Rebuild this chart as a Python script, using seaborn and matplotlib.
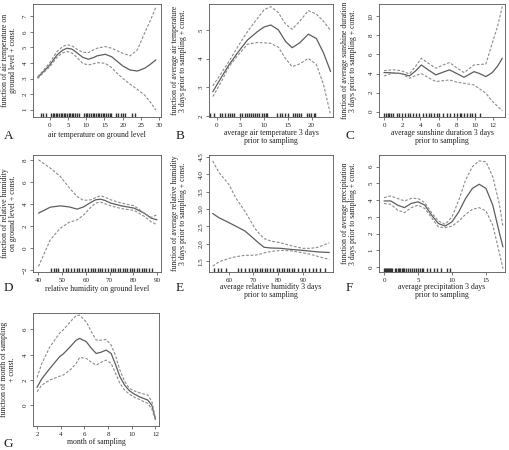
import numpy as np
import pandas as pd
import matplotlib
matplotlib.use("Agg")
import matplotlib.pyplot as plt
import seaborn as sns

# A: air temperature on ground level
a_x = [-3.3, -1.5, 0, 2, 3.5, 4.7, 6, 7, 9, 10.6, 12, 13, 15.2, 17, 18, 20, 22, 24, 26, 27.5, 29.1]
a_fit = [3.07, 3.5, 3.87, 4.52, 4.82, 4.95, 4.9, 4.74, 4.37, 4.24, 4.35, 4.46, 4.56, 4.4, 4.2, 3.81, 3.55, 3.48, 3.66, 3.9, 4.2]
a_upper = [3.12, 3.58, 4.02, 4.74, 5.05, 5.17, 5.12, 4.95, 4.69, 4.67, 4.85, 4.95, 5.06, 4.95, 4.84, 4.63, 4.46, 4.84, 5.92, 6.7, 7.6]
a_lower = [3.0, 3.42, 3.76, 4.37, 4.65, 4.74, 4.65, 4.46, 3.98, 3.87, 3.95, 4.02, 3.98, 3.7, 3.44, 3.01, 2.64, 2.3, 1.93, 1.5, 0.96]
a_rug = [-2.5, -1.8, -1, 0.3, 0.8, 1.2, 1.7, 2.1, 2.6, 3.0, 3.4, 3.9, 4.3, 4.8, 5.2, 5.6, 6.1, 6.5, 7.0, 7.4, 7.9,
         9.4, 9.9, 10.3, 10.8, 11.3, 11.8, 12.2, 12.7, 13.1, 13.6, 14.1, 14.5, 15.0, 15.4, 15.9, 16.4, 16.8,
         18.1, 18.8, 19.5, 20.2, 20.7, 22.5, 23.4]

# B: average air temperature 3 days prior to sampling
b_x = [-0.8, 1, 2.6, 4.4, 6.5, 8.6, 10, 11.4, 13, 14.5, 15.9, 17.5, 19.3, 21, 22.5, 24]
b_fit = [2.85, 3.35, 3.78, 4.2, 4.65, 4.94, 5.1, 5.17, 5.0, 4.6, 4.38, 4.55, 4.85, 4.7, 4.2, 3.55]
b_upper = [3.05, 3.5, 3.9, 4.4, 4.94, 5.4, 5.7, 5.81, 5.6, 5.2, 5.02, 5.3, 5.67, 5.55, 5.3, 4.98]
b_lower = [2.68, 3.2, 3.72, 4.1, 4.5, 4.56, 4.55, 4.53, 4.4, 4.0, 3.72, 3.82, 4.01, 3.8, 3.1, 2.04]
b_rug = [-1.3, -0.6, 0.8, 1.2, 1.7, 2.3, 2.8, 3.2, 3.6, 5.0, 5.4, 5.9, 6.3, 6.8, 7.2, 7.7, 8.1, 8.6, 9.0, 9.5, 9.9,
         10.4, 10.7, 12.8, 13.3, 13.8, 14.3, 15.0, 16.0, 16.5, 17.0, 17.4, 17.7, 19.0, 19.5, 19.9, 20.4, 20.8]

# C: average sunshine duration 3 days prior to sampling
c_x = [0, 0.5, 1, 1.9, 2.8, 3.5, 4.1, 5, 5.7, 6.5, 7.2, 8, 8.8, 9.9, 10.5, 11.2, 11.9, 12.5, 13]
c_fit = [4.1, 4.1, 4.05, 4.0, 3.75, 4.3, 4.9, 4.3, 3.86, 4.15, 4.39, 4.0, 3.61, 4.2, 4.0, 3.68, 4.1, 4.8, 5.6]
c_upper = [4.3, 4.35, 4.4, 4.3, 3.96, 4.8, 5.6, 5.0, 4.56, 4.9, 5.16, 4.6, 4.1, 4.9, 4.95, 5.0, 7.2, 9.0, 11.05]
c_lower = [3.75, 3.9, 4.1, 4.0, 3.5, 3.8, 4.0, 3.5, 3.16, 3.25, 3.33, 3.1, 2.98, 2.8, 2.4, 1.93, 1.1, 0.55, 0.1]
c_rug = [0.0, 0.2, 0.4, 0.6, 0.8, 1.0, 1.4, 1.7, 2.0, 2.3, 2.6, 2.9, 3.2, 3.5, 3.8, 4.3, 4.6, 4.9, 5.2, 5.5, 5.8, 6.1,
         6.5, 6.9, 7.3, 7.7, 8.0, 8.3, 8.5, 8.8, 9.1, 9.4, 9.7, 10.0, 10.5]

# D: relative humidity on ground level
d_x = [40, 45, 49.2, 53, 56.3, 59, 62, 64.1, 66.2, 68, 70.5, 75, 80.4, 84.6, 87.5, 90]
d_fit = [3.18, 3.73, 3.85, 3.75, 3.55, 3.75, 4.15, 4.4, 4.46, 4.35, 4.1, 3.85, 3.64, 3.18, 2.73, 2.57]
d_upper = [8.06, 7.3, 6.54, 5.5, 4.7, 4.35, 4.4, 4.6, 4.77, 4.65, 4.4, 4.1, 3.85, 3.2, 2.8, 3.03]
d_lower = [-1.7, 0.74, 1.81, 2.35, 2.57, 3.0, 3.7, 4.1, 4.19, 4.05, 3.85, 3.6, 3.43, 2.9, 2.4, 2.12]
d_rug = [45.5, 46.5, 47.4, 48.3, 50.4, 51.5, 52.5, 53.8, 55.0, 56.2, 57.3, 58.5, 59.6, 60.8, 62.0, 63.0, 64.0,
         65.0, 66.0, 67.0, 68.0, 69.4, 70.5, 71.5, 72.5, 73.5, 74.5, 75.5, 76.5, 77.5, 78.5, 79.5, 80.5,
         81.5, 82.5, 83.5, 84.5, 85.5, 86.5, 87.8]

# E: average relative humidity 3 days prior to sampling
e_x = [53.5, 56, 60, 63, 66.5, 68.5, 70.4, 72.5, 74.3, 77, 80.9, 85, 90, 93, 95.5, 98, 100.7]
e_fit = [2.87, 2.75, 2.61, 2.5, 2.37, 2.25, 2.13, 2.0, 1.9, 1.88, 1.87, 1.84, 1.81, 1.79, 1.77, 1.76, 1.75]
e_upper = [4.38, 4.05, 3.71, 3.3, 2.94, 2.7, 2.46, 2.28, 2.15, 2.08, 2.03, 1.95, 1.87, 1.87, 1.89, 1.95, 2.03]
e_lower = [1.36, 1.48, 1.58, 1.63, 1.67, 1.67, 1.67, 1.7, 1.74, 1.78, 1.81, 1.8, 1.74, 1.7, 1.65, 1.6, 1.55]
e_rug = [54.0, 55.5, 57.0, 58.7, 63.6, 65.0, 66.5, 68.0, 69.5, 70.5, 71.5, 72.5, 73.5, 74.5, 75.5, 76.5, 78.0,
         79.5, 80.5, 81.5, 82.5, 83.5, 84.5, 85.5, 86.5, 88.0, 89.5, 91.0, 92.5, 94.0, 95.5, 97.0, 99.0]

# F: average precipitation 3 days prior to sampling
f_x = [0, 1, 2, 3, 4, 5, 6, 7, 8, 9, 10, 11, 12, 13, 14, 15, 16, 17, 17.5]
f_fit = [3.95, 3.95, 3.7, 3.55, 3.8, 3.9, 3.7, 3.1, 2.6, 2.45, 2.7, 3.3, 4.1, 4.7, 4.95, 4.7, 3.7, 2.0, 1.2]
f_upper = [4.15, 4.25, 4.1, 3.95, 4.1, 4.1, 3.85, 3.25, 2.75, 2.55, 3.0, 4.0, 5.2, 6.0, 6.35, 6.3, 5.4, 3.7, 2.4]
f_lower = [3.8, 3.75, 3.4, 3.25, 3.55, 3.7, 3.5, 2.95, 2.4, 2.35, 2.45, 2.75, 3.15, 3.45, 3.55, 3.35, 2.5, 0.8, -0.1]
f_rug = [0.0, 0.15, 0.3, 0.45, 0.6, 0.75, 0.9, 1.05, 1.2, 1.6, 1.8, 2.0, 2.2, 2.4, 2.6, 2.8, 3.0, 3.2, 3.5,
         3.8, 4.1, 4.4, 4.7, 5.0, 5.3, 5.6, 5.8, 6.3, 6.8, 7.3, 7.8, 8.4, 9.2, 9.7]

# G: month of sampling
g_x = [2, 2.4, 3.07, 3.9, 4.2, 4.8, 5.3, 5.6, 6.16, 6.6, 7.0, 7.4, 7.84, 8.26, 8.6, 9.0, 9.4, 9.8, 10.2, 10.65, 11.0, 11.35, 11.7, 12]
g_fit = [1.42, 2.1, 2.9, 3.84, 4.05, 4.63, 5.15, 5.29, 5.03, 4.5, 4.1, 4.2, 4.37, 4.1, 3.3, 2.26, 1.6, 1.16, 0.9, 0.68, 0.55, 0.42, 0.0, -1.1]
g_upper = [2.2, 3.3, 4.6, 5.7, 5.95, 6.6, 7.1, 7.13, 6.6, 5.8, 5.16, 5.15, 5.21, 4.76, 4.0, 2.79, 1.9, 1.34, 1.15, 1.0, 0.9, 0.82, 0.3, -1.03]
g_lower = [1.08, 1.6, 2.0, 2.3, 2.39, 2.8, 3.3, 3.79, 3.71, 3.4, 3.18, 3.4, 3.58, 3.32, 2.6, 1.74, 1.2, 0.89, 0.65, 0.47, 0.3, 0.16, -0.3, -1.16]

sns.set_style("ticks")
plt.rcParams["font.family"] = ["Liberation Serif", "DejaVu Serif"]

fig = plt.figure(figsize=(5.1, 4.5), dpi=100)
W, H = 510, 450
TXT = "#222222"

# letter, box (left, top, right, bottom px), data, labels, limits, ticks, ylabel right edge px, xlabel top px, letter pos
panels = [
    ("A", (33, 4, 161, 117), a_x, a_fit, a_upper, a_lower, a_rug,
     "air temperature on ground level", "function of air temperature on\nground level + const.",
     (-4.6, 30.5), (0.52, 7.8), [0, 5, 10, 15, 20, 25, 30], [1, 2, 3, 4, 5, 6, 7], 17, 131, (4, 139)),
    ("B", (209, 4, 333, 117), b_x, b_fit, b_upper, b_lower, b_rug,
     "average air temperature 3 days\nprior to sampling", "function of average air temperature\n3 days prior to sampling + const.",
     (-1.6, 24.5), (1.97, 5.9), [0, 5, 10, 15, 20], [2, 3, 4, 5], 187, 129, (176, 139)),
    ("C", (379, 4, 505, 117), c_x, c_fit, c_upper, c_lower, c_rug,
     "average sunshine duration 3 days\nprior to sampling", "function of average sunshine duration\n3 days prior to sampling + const.",
     (-0.55, 13.3), (-0.56, 11.3), [0, 2, 4, 6, 8, 10, 12], [0, 2, 4, 6, 8, 10], 357, 129, (346, 139)),
    ("D", (33, 155, 161, 272), d_x, d_fit, d_upper, d_lower, d_rug,
     "relative humidity on ground level", "function of relative humidity\non ground level + const.",
     (37.7, 91.7), (-2.2, 8.5), [40, 50, 60, 70, 80, 90], [-2, 0, 2, 4, 6, 8], 17, 285, (4, 291)),
    ("E", (209, 155, 333, 272), e_x, e_fit, e_upper, e_lower, e_rug,
     "average relative humidity 3 days\nprior to sampling", "function of average relative humidity\n3 days prior to sampling + const.",
     (52.0, 102.2), (1.19, 4.55), [60, 70, 80, 90], [1.5, 2.0, 2.5, 3.0, 3.5, 4.0, 4.5], 187, 283, (176, 291)),
    ("F", (379, 155, 505, 272), f_x, f_fit, f_upper, f_lower, f_rug,
     "average precipitation 3 days\nprior to sampling", "function of average precipitation\n3 days prior to sampling + const.",
     (-0.74, 17.8), (-0.3, 6.7), [0, 5, 10, 15], [0, 1, 2, 3, 4, 5, 6], 357, 283, (346, 291)),
    ("G", (33, 313, 159, 426), g_x, g_fit, g_upper, g_lower, None,
     "month of sampling", "function of month of sampling\n+ const.",
     (1.66, 12.3), (-1.63, 7.3), [2, 4, 6, 8, 10, 12], [0, 2, 4, 6], 16, 438, (4, 447)),
]

for (letter, box, xs, fit, up, lo, rug, xlab, ylab, xlim, ylim, xt, yt, ylx, xly, lpos) in panels:
    l, t, r, b = box
    w, h = r - l, b - t
    ax = fig.add_axes([l / W, (H - b) / H, w / W, h / H])
    df = pd.DataFrame({"x": xs, "fit": fit, "upper": up, "lower": lo})
    sns.lineplot(data=df, x="x", y="fit", ax=ax, color="#5e5e5e", lw=0.9)
    for col in ["upper", "lower"]:
        sns.lineplot(data=df, x="x", y=col, ax=ax, color="#8c8c8c", lw=0.8, linestyle=(0, (2.5, 1.5)))
    if rug is not None:
        sns.rugplot(x=rug, ax=ax, height=0.035, color="#333333", lw=0.6)
    ax.set_xlim(*xlim)
    ax.set_ylim(*ylim)
    ax.set_xticks(xt)
    ax.set_yticks(yt)
    if letter == "E":
        ax.set_yticklabels([f"{v:.1f}" for v in yt])
    ax.tick_params(axis="both", labelsize=5, length=2.5, width=0.5, pad=1.5, color="#444444", labelcolor=TXT)
    ax.tick_params(axis="y", labelrotation=90)
    for lab in ax.get_yticklabels():
        lab.set_va("center")
    for s in ax.spines.values():
        s.set_visible(True)
        s.set_linewidth(0.6)
        s.set_color("#555555")
    ax.set_xlabel(xlab, fontsize=5.6, color=TXT, linespacing=1.05)
    ax.set_ylabel(ylab, fontsize=5.6, color=TXT, linespacing=1.05)
    ax.xaxis.set_label_coords(0.5, -(xly - b) / h)
    ax.yaxis.set_label_coords((ylx - l) / w, 0.5)
    fig.text(lpos[0] / W, 1 - lpos[1] / H, letter, fontsize=9.5, color=TXT, ha="left", va="baseline")

fig.savefig("out.png", dpi=100, facecolor="white")
